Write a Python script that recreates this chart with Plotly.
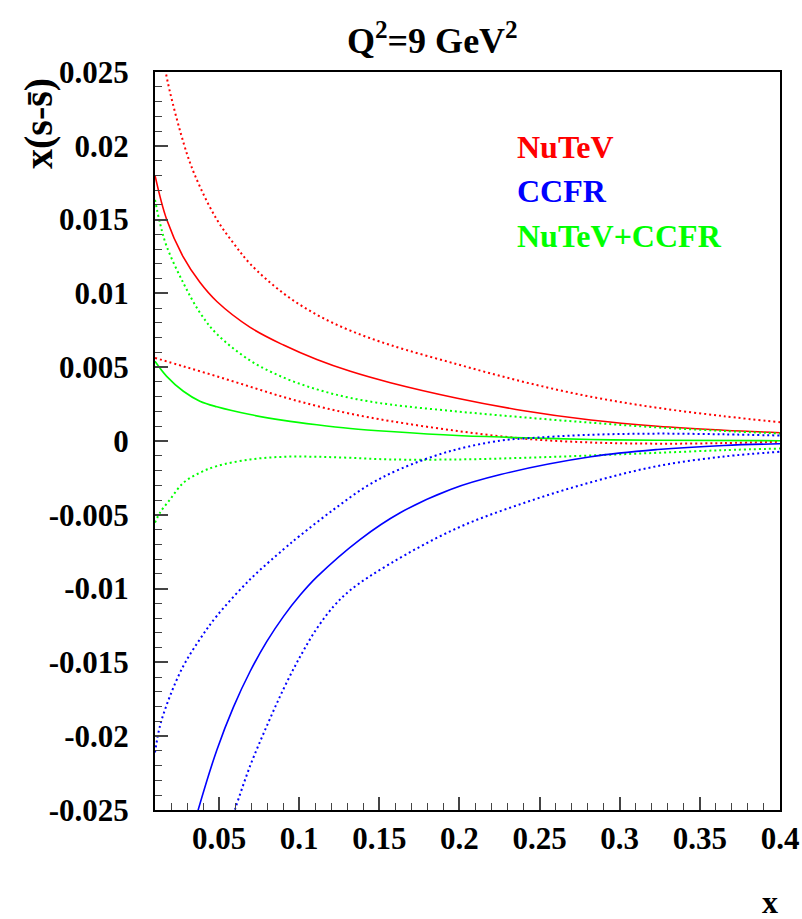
import plotly.graph_objects as go

# ---------------- data ----------------
nutev_x = [0.01, 0.0173, 0.0277, 0.038, 0.0486, 0.0694, 0.0902, 0.111, 0.1319, 0.1569, 0.1986, 0.2402, 0.2819, 0.3235, 0.365, 0.4]
nutev_c = [0.0180, 0.0150, 0.01245, 0.01075, 0.00945, 0.0077, 0.0065, 0.00552, 0.00472, 0.00395, 0.00290, 0.00205, 0.00142, 0.00100, 0.00073, 0.00056]

nutev_hi_x = [0.0155, 0.0167, 0.0298, 0.038, 0.0486, 0.059, 0.0694, 0.0902, 0.111, 0.1319, 0.1569, 0.1986, 0.2402, 0.2819, 0.3235, 0.365, 0.4]
nutev_hi = [0.0265, 0.0250, 0.0195, 0.01724, 0.0150, 0.0134, 0.0120, 0.0100, 0.00855, 0.00748, 0.0065, 0.0052, 0.0040, 0.0030, 0.00225, 0.00168, 0.00127]

nutev_lo_x = [0.01, 0.0277, 0.0486, 0.0694, 0.0902, 0.111, 0.1319, 0.1569, 0.1986, 0.2402, 0.2819, 0.3235, 0.365, 0.4]
nutev_lo = [0.00563, 0.00506, 0.00438, 0.00368, 0.00298, 0.00237, 0.00185, 0.00135, 0.00068, 0.00016, -0.0001, -0.00018, -0.00014, -0.00005]

ccfr_x = [0.0350, 0.0371, 0.0486, 0.059, 0.0694, 0.0798, 0.0902, 0.1006, 0.111, 0.1381, 0.163, 0.1944, 0.2256, 0.2819, 0.3235, 0.365, 0.4]
ccfr_c = [-0.02577, -0.02493, -0.02093, -0.01801, -0.0156, -0.01358, -0.01188, -0.01044, -0.00921, -0.00666, -0.00486, -0.00328, -0.00227, -0.00107, -0.00058, -0.0003, -0.00019]

ccfr_hi_x = [0.01, 0.0131, 0.0194, 0.0277, 0.038, 0.0486, 0.0694, 0.0902, 0.1006, 0.1214, 0.1423, 0.163, 0.1944, 0.2256, 0.2402, 0.2819, 0.3235, 0.365, 0.4]
ccfr_hi = [-0.0211, -0.0193, -0.01727, -0.01524, -0.01343, -0.01185, -0.00937, -0.00734, -0.0064, -0.00465, -0.00305, -0.0019, -0.00068, 0.00003, 0.00017, 0.00042, 0.0005, 0.00045, 0.00037]

ccfr_lo_x = [0.057, 0.06, 0.0694, 0.0798, 0.0902, 0.1006, 0.111, 0.1215, 0.1319, 0.1569, 0.1986, 0.2402, 0.2819, 0.3235, 0.365, 0.4]
ccfr_lo = [-0.02595, -0.02493, -0.0220, -0.0193, -0.0168, -0.0146, -0.0127, -0.0112, -0.0101, -0.0083, -0.0059, -0.0042, -0.0028, -0.0017, -0.00105, -0.00073]

comb_x = [0.01, 0.0173, 0.0277, 0.038, 0.0486, 0.0694, 0.0902, 0.111, 0.1319, 0.1569, 0.1986, 0.2402, 0.2819, 0.3235, 0.4]
comb_c = [0.0054, 0.00438, 0.00337, 0.0027, 0.00232, 0.00179, 0.0014, 0.0011, 0.00085, 0.00064, 0.00037, 0.00022, 0.0001, 0.00005, 0.00002]

comb_hi_x = [0.01, 0.0131, 0.0173, 0.0277, 0.038, 0.0486, 0.0694, 0.0902, 0.111, 0.1319, 0.1569, 0.1986, 0.2402, 0.2819, 0.3235, 0.365, 0.4]
comb_hi = [0.01634, 0.01476, 0.01318, 0.0107, 0.0087, 0.00725, 0.00545, 0.0043, 0.0035, 0.00292, 0.00247, 0.0020, 0.0016, 0.00124, 0.00092, 0.00068, 0.00051]

comb_lo_x = [0.01, 0.0131, 0.0194, 0.0277, 0.038, 0.0486, 0.0694, 0.0902, 0.111, 0.1319, 0.1569, 0.1986, 0.2402, 0.2819, 0.3235, 0.365, 0.4]
comb_lo = [-0.00553, -0.00486, -0.00396, -0.00283, -0.00215, -0.0017, -0.00125, -0.00107, -0.00107, -0.00114, -0.00125, -0.00125, -0.00114, -0.00098, -0.0008, -0.00062, -0.00051]

legend_names = ["NuTeV", "CCFR", "NuTeV+CCFR"]

x_tickvals = [0.05, 0.1, 0.15, 0.2, 0.25, 0.3, 0.35, 0.4]
x_ticktext = ["0.05", "0.1", "0.15", "0.2", "0.25", "0.3", "0.35", "0.4"]
y_tickvals = [0.025, 0.02, 0.015, 0.01, 0.005, 0.0, -0.005, -0.01, -0.015, -0.02, -0.025]
y_ticktext = ["0.025", "0.02", "0.015", "0.01", "0.005", "0", "-0.005", "-0.01", "-0.015", "-0.02", "-0.025"]

# ---------------- styling ----------------
RED, BLUE, GREEN = "#ff0000", "#0000ff", "#00ff00"
FONT = "Liberation Serif"

fig = go.Figure()

def add(x, y, color, dotted):
    fig.add_trace(go.Scatter(
        x=x, y=y, mode="lines", line_shape="spline",
        line=dict(color=color, width=2.0 if dotted else 1.6,
                  dash="2px,3px" if dotted else "solid"),
        showlegend=False, hoverinfo="skip"))

add(nutev_hi_x, nutev_hi, RED, True)
add(nutev_lo_x, nutev_lo, RED, True)
add(nutev_x, nutev_c, RED, False)
add(comb_hi_x, comb_hi, GREEN, True)
add(comb_lo_x, comb_lo, GREEN, True)
add(comb_x, comb_c, GREEN, False)
add(ccfr_hi_x, ccfr_hi, BLUE, True)
add(ccfr_lo_x, ccfr_lo, BLUE, True)
add(ccfr_x, ccfr_c, BLUE, False)

W, H = 802, 919
L, R, T, B = 155, 22, 72, 109
PW, PH = W - L - R, H - T - B

def px(xp):
    return (xp - L) / PW

def py(yp):
    return (H - B - yp) / PH

fig.update_layout(
    width=W, height=H,
    margin=dict(l=L, r=R, t=T, b=B, autoexpand=False),
    paper_bgcolor="white", plot_bgcolor="white",
    font=dict(family=FONT, size=31, color="black"),
    xaxis=dict(
        range=[0.01, 0.4], showgrid=False, zeroline=False, automargin=False,
        showline=True, linecolor="black", linewidth=2, mirror=True,
        ticks="inside", ticklen=13, tickwidth=1.5, tickcolor="#444",
        tickvals=x_tickvals, ticktext=x_ticktext,
        tickfont=dict(family=FONT, size=31, weight="bold"),
        minor=dict(ticks="inside", ticklen=7, tickwidth=1.2, tickcolor="#444", dtick=0.01, tick0=0.0),
    ),
    yaxis=dict(
        range=[-0.025, 0.025], showgrid=False, zeroline=False, automargin=False,
        showline=True, linecolor="black", linewidth=2, mirror=True,
        ticks="inside", ticklen=13, tickwidth=1.5, tickcolor="#444",
        tickvals=y_tickvals, ticktext=y_ticktext,
        tickfont=dict(family=FONT, size=31, weight="bold"),
        ticklabelstandoff=18,
        minor=dict(ticks="inside", ticklen=7, tickwidth=1.2, tickcolor="#444", dtick=0.001, tick0=0.0),
    ),
)

# title
fig.add_annotation(text="<b>Q<sup>2</sup>=9 GeV<sup>2</sup></b>", xref="paper", yref="paper",
                   x=px(432), y=py(38), showarrow=False,
                   font=dict(family=FONT, size=36, color="black"),
                   xanchor="center", yanchor="middle")

# legend-like text labels
legend_colors = [RED, BLUE, GREEN]
legend_y = [147, 191, 236]
for name, col, yy in zip(legend_names, legend_colors, legend_y):
    fig.add_annotation(text="<b>" + name + "</b>", xref="paper", yref="paper",
                       x=px(515), y=py(yy), showarrow=False,
                       xanchor="left", yanchor="middle",
                       font=dict(family=FONT, size=32, color=col))

# axis titles
fig.add_annotation(text="<b>x</b>", xref="paper", yref="paper",
                   x=px(770), y=py(902), showarrow=False,
                   xanchor="center", yanchor="middle",
                   font=dict(family=FONT, size=32, color="black"))
fig.add_annotation(text="<b>x(s-s\u0304)</b>", xref="paper", yref="paper",
                   x=px(38), y=py(124), showarrow=False,
                   xanchor="center", yanchor="middle", textangle=-90,
                   font=dict(family=FONT, size=40, color="black"))

fig.write_html("out.html")
